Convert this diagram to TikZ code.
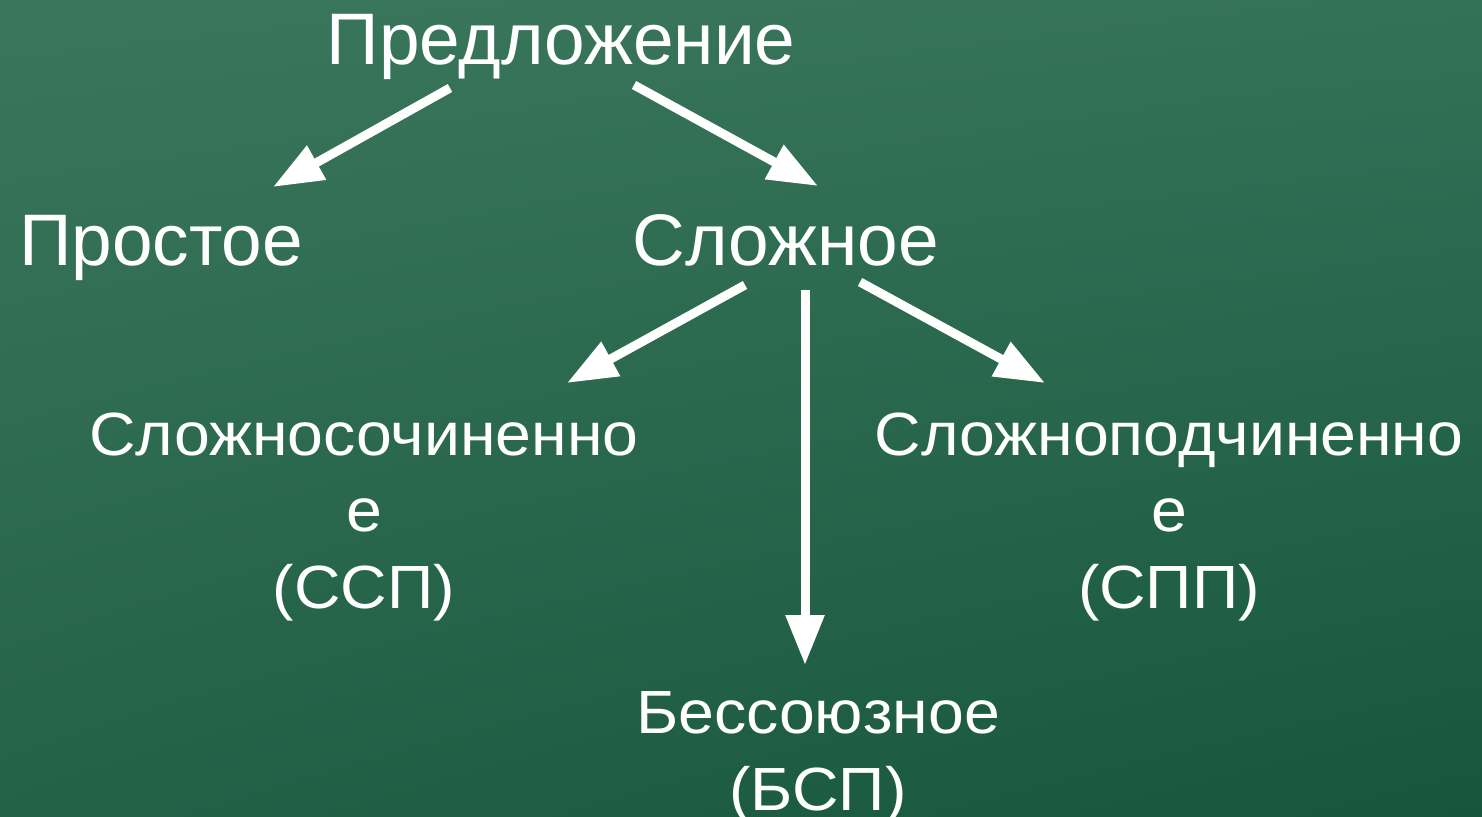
\documentclass[tikz,border=0pt]{standalone}
\usepackage{fontspec}
\setmainfont{Liberation Sans}
\newfontfamily\smallfam[FakeStretch=1.055]{Liberation Sans}
\usetikzlibrary{arrows.meta,shadings}
\definecolor{bgUL}{RGB}{58,118,92}
\definecolor{bgUR}{RGB}{52,114,88}
\definecolor{bgLL}{RGB}{36,98,72}
\definecolor{bgLR}{RGB}{21,86,60}
\tikzset{
  big/.style={text=white, inner sep=0pt, font=\fontsize{73}{84}\selectfont, anchor=base},
  small/.style={text=white, inner sep=0pt, font=\smallfam\fontsize{61}{76.5}\selectfont, anchor=base, align=center},
  conn/.style={draw=white, line width=9pt, -{Triangle[length=50pt,width=37pt]}},
}
\begin{document}
\begin{tikzpicture}[x=1pt,y=-1pt]
\shade[upper left=bgUL, upper right=bgUR, lower left=bgLL, lower right=bgLR] (0,0) rectangle (1482,816);
\useasboundingbox (0,0) rectangle (1482,816);
\node[big] (pred) at (561,65) {Предложение};
\node[big] (prost) at (161,265) {Простое};
\node[big] (slozh) at (786,265) {Сложное};
\node[small] (ssp) at (364,608) {Сложносочиненно\\е\\(ССП)};
\node[small] (spp) at (1169,608) {Сложноподчиненно\\е\\(СПП)};
\node[small] (bsp) at (818,810) {Бессоюзное\\(БСП)};
\coordinate (a1s) at (450,88);  \coordinate (a1e) at (273,187);
\coordinate (a2s) at (634,85);  \coordinate (a2e) at (818,186);
\coordinate (a3s) at (745,285); \coordinate (a3e) at (567,383);
\coordinate (a4s) at (860,282); \coordinate (a4e) at (1045,383);
\coordinate (a5s) at (805,290); \coordinate (a5e) at (805,665);
\draw[conn] (a1s) -- (a1e);
\draw[conn] (a2s) -- (a2e);
\draw[conn] (a3s) -- (a3e);
\draw[conn] (a4s) -- (a4e);
\draw[conn] (a5s) -- (a5e);
\end{tikzpicture}
\end{document}
